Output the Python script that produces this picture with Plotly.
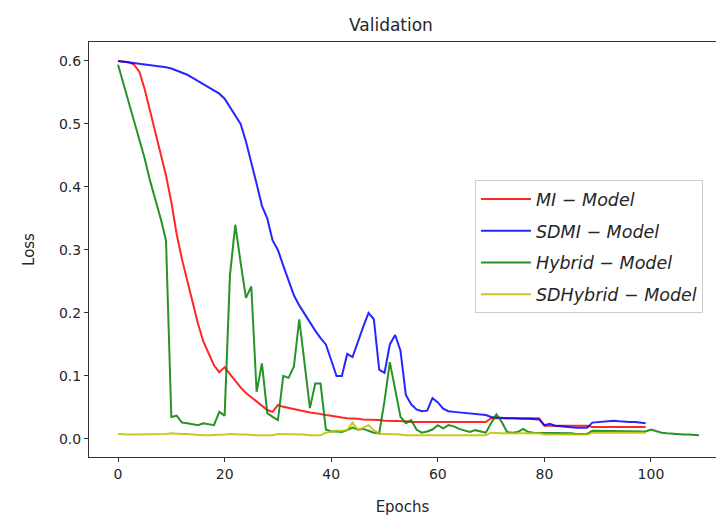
import plotly.graph_objects as go

mi_model = [
    0.600, 0.599, 0.598, 0.594, 0.583, 0.555, 0.520, 0.487, 0.455, 0.418,
    0.376, 0.325, 0.285, 0.250, 0.215, 0.183, 0.155, 0.135, 0.117, 0.106,
    0.114, 0.103, 0.092, 0.082, 0.073, 0.066, 0.059, 0.052, 0.046, 0.043,
    0.054, 0.051, 0.049, 0.047, 0.045, 0.044, 0.042, 0.041, 0.039, 0.038,
    0.037, 0.035, 0.034, 0.033, 0.033, 0.032, 0.031, 0.031, 0.030, 0.030,
    0.029, 0.029, 0.028, 0.028, 0.028, 0.027, 0.027, 0.027, 0.027, 0.027,
    0.027, 0.027, 0.027, 0.027, 0.027, 0.027, 0.027, 0.027, 0.027, 0.027,
    0.033, 0.033, 0.033, 0.033, 0.033, 0.033, 0.033, 0.033, 0.033, 0.033,
    0.021, 0.021, 0.021, 0.021, 0.021, 0.021, 0.021, 0.021, 0.021, 0.019,
    0.019, 0.019, 0.019, 0.019, 0.019, 0.019, 0.019, 0.019, 0.019, 0.019,
]

sdmi_model = [
    0.600, 0.599, 0.598, 0.597, 0.596, 0.595, 0.594, 0.593, 0.592, 0.590,
    0.588, 0.585, 0.582, 0.578, 0.573, 0.568, 0.563, 0.558, 0.553, 0.548,
    0.540, 0.527, 0.513, 0.500, 0.472, 0.440, 0.405, 0.370, 0.350, 0.315,
    0.300, 0.275, 0.250, 0.228, 0.212, 0.198, 0.185, 0.172, 0.160, 0.150,
    0.125, 0.100, 0.100, 0.135, 0.130, 0.155, 0.178, 0.200, 0.190, 0.110,
    0.105, 0.150, 0.165, 0.140, 0.070, 0.055, 0.047, 0.044, 0.045, 0.065,
    0.058, 0.048, 0.044, 0.043, 0.042, 0.042, 0.041, 0.040, 0.039, 0.038,
    0.035, 0.034, 0.034, 0.033, 0.033, 0.032, 0.032, 0.032, 0.031, 0.031,
    0.022, 0.024, 0.021, 0.020, 0.019, 0.019, 0.018, 0.018, 0.018, 0.026,
    0.027, 0.027, 0.028, 0.029, 0.028, 0.027, 0.027, 0.027, 0.026, 0.025,
]

hybrid_model = [
    0.594, 0.565, 0.535, 0.505, 0.475, 0.445, 0.410, 0.380, 0.350, 0.315,
    0.035, 0.037, 0.026, 0.025, 0.024, 0.022, 0.025, 0.023, 0.022, 0.043,
    0.037, 0.260, 0.340, 0.280, 0.224, 0.242, 0.075, 0.120, 0.041, 0.035,
    0.030, 0.100, 0.097, 0.115, 0.190, 0.120, 0.049, 0.088, 0.088, 0.015,
    0.012, 0.012, 0.011, 0.014, 0.018, 0.015, 0.016, 0.013, 0.010, 0.009,
    0.060, 0.122, 0.078, 0.035, 0.025, 0.030, 0.015, 0.010, 0.012, 0.015,
    0.022, 0.017, 0.022, 0.020, 0.016, 0.013, 0.011, 0.014, 0.012, 0.010,
    0.025, 0.039, 0.027, 0.011, 0.010, 0.011, 0.016, 0.011, 0.010, 0.010,
    0.010, 0.009, 0.009, 0.009, 0.009, 0.009, 0.008, 0.008, 0.008, 0.013,
    0.013, 0.013, 0.013, 0.013, 0.013, 0.012, 0.012, 0.012, 0.012, 0.012,
    0.015, 0.012, 0.010, 0.009, 0.008, 0.008, 0.007, 0.007, 0.006, 0.006,
]

sdhybrid_model = [
    0.008, 0.007, 0.007, 0.007, 0.007, 0.007, 0.007, 0.007, 0.007, 0.008,
    0.009, 0.008, 0.008, 0.008, 0.007, 0.007, 0.006, 0.006, 0.006, 0.006,
    0.007, 0.008, 0.007, 0.007, 0.007, 0.006, 0.006, 0.006, 0.006, 0.006,
    0.008, 0.008, 0.007, 0.007, 0.007, 0.007, 0.006, 0.006, 0.006, 0.010,
    0.012, 0.013, 0.013, 0.014, 0.026, 0.014, 0.018, 0.022, 0.014, 0.008,
    0.008, 0.008, 0.007, 0.007, 0.006, 0.006, 0.006, 0.006, 0.006, 0.006,
    0.006, 0.006, 0.006, 0.006, 0.006, 0.006, 0.006, 0.006, 0.006, 0.006,
    0.010, 0.009, 0.009, 0.009, 0.009, 0.009, 0.009, 0.009, 0.009, 0.009,
    0.007, 0.007, 0.007, 0.007, 0.007, 0.007, 0.007, 0.007, 0.007, 0.010,
    0.010, 0.010, 0.010, 0.010, 0.010, 0.010, 0.010, 0.010, 0.010, 0.010,
]

series_names = ["MI \u2212 Model", "SDMI \u2212 Model", "Hybrid \u2212 Model", "SDHybrid \u2212 Model"]
series_values = [mi_model, sdmi_model, hybrid_model, sdhybrid_model]
series_colors = ["rgba(255,0,0,0.85)", "rgba(0,0,255,0.85)", "rgba(0,128,0,0.85)", "rgba(191,191,0,0.85)"]

x_ticks = [0, 20, 40, 60, 80, 100]
y_ticks = [0.0, 0.1, 0.2, 0.3, 0.4, 0.5, 0.6]

FONT = "DejaVu Sans, Verdana, sans-serif"

fig = go.Figure()
for i, (name, vals, col) in enumerate(zip(series_names, series_values, series_colors)):
    fig.add_trace(go.Scatter(
        x=list(range(len(vals))), y=vals, mode="lines",
        name=f"<i>{name}</i>", legendgroup=f"g{i}",
        line=dict(color=col, width=2),
    ))

axis_common = dict(
    showgrid=False, zeroline=False, showline=True, linecolor="#333333", linewidth=1,
    ticks="outside", ticklen=4, tickcolor="#333333", tickwidth=1,
    tickfont=dict(family=FONT, size=14, color="#262626"),
)

fig.update_layout(
    width=716, height=520,
    margin=dict(l=89, r=0, t=42, b=63, pad=0),
    plot_bgcolor="white", paper_bgcolor="white",
    font=dict(family=FONT, color="#262626"),
    title=dict(text="Validation", x=0.546, xanchor="center", y=1 - 25 / 520, yanchor="middle",
               font=dict(family=FONT, size=17, color="#262626")),
    xaxis=dict(range=[-5.45, 112.2], tickvals=x_ticks, mirror=True,
               title=dict(text="Epochs", font=dict(family=FONT, size=15), standoff=20),
               **axis_common),
    yaxis=dict(range=[-0.0286, 0.63], tickvals=y_ticks, tickformat=".1f", mirror=False,
               title=dict(text="Loss", font=dict(family=FONT, size=15), standoff=20),
               **axis_common),
    legend=dict(x=0.6156, y=0.667, xanchor="left", yanchor="top",
                bgcolor="rgba(255,255,255,0.8)", bordercolor="#cccccc", borderwidth=1,
                font=dict(family=FONT, size=17.5, color="#262626"),
                tracegroupgap=6, itemwidth=50),
    showlegend=True,
)

fig.write_html("out.html")
